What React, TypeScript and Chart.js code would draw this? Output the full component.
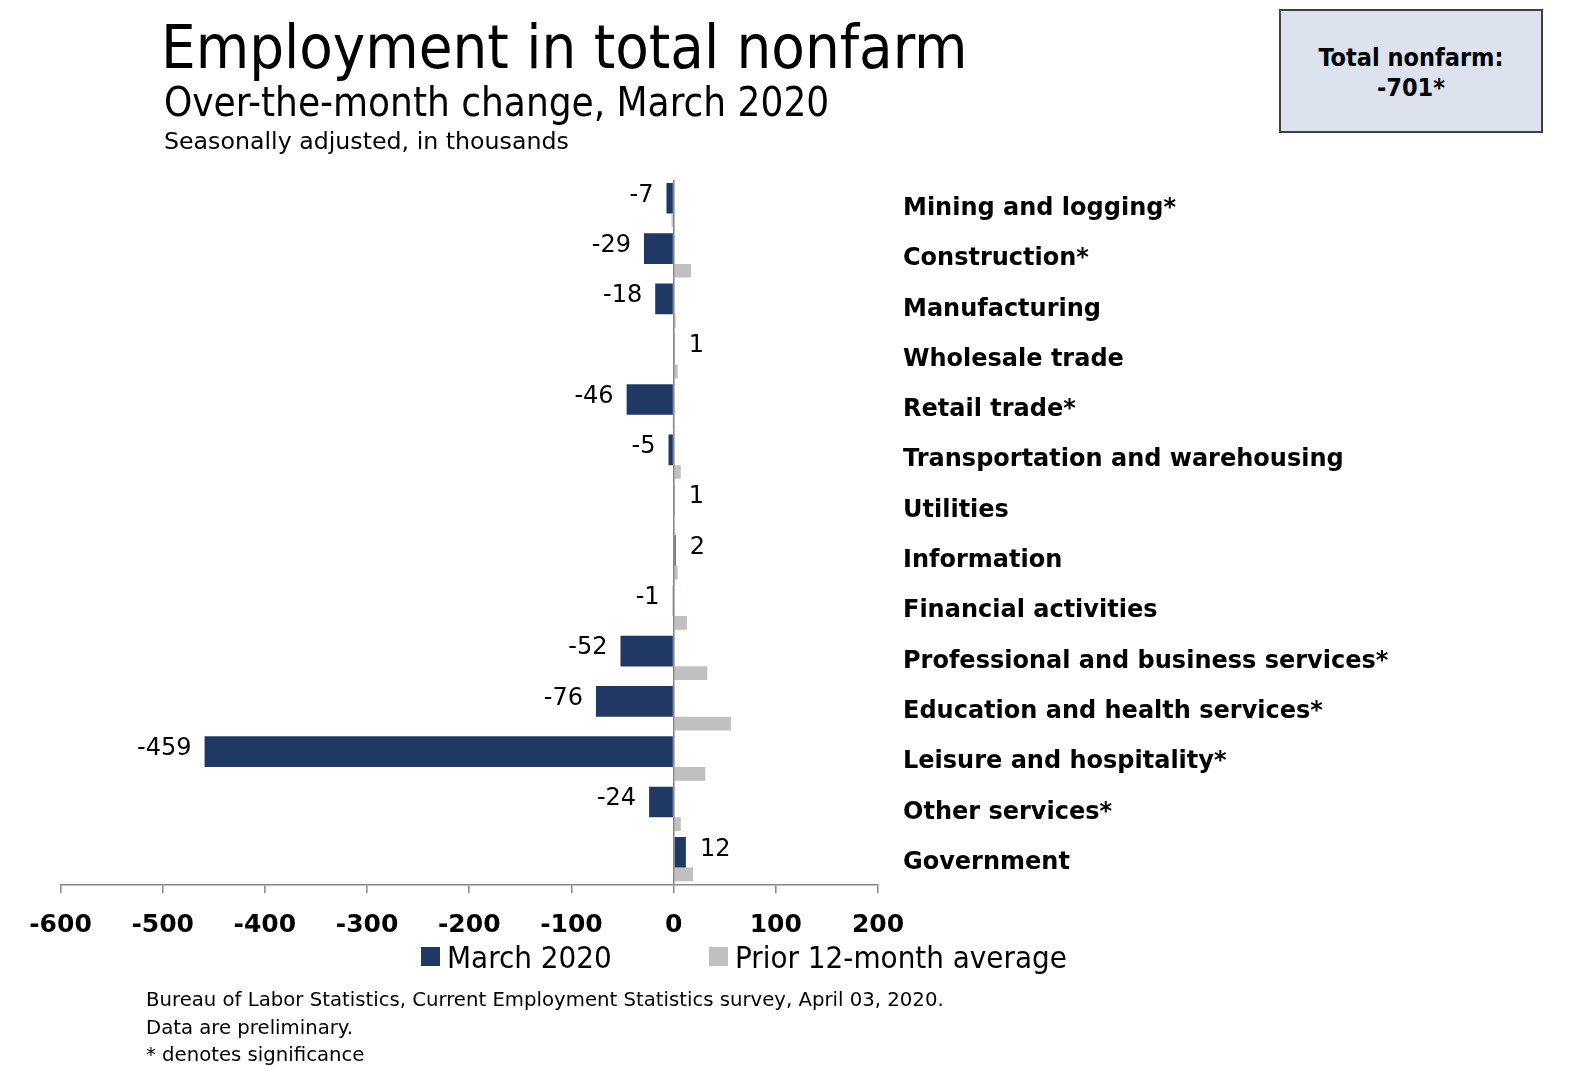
import React, { useEffect, useRef } from "react";
import { Chart, registerables } from "chart.js";

Chart.register(...registerables);

// ---------- data ----------
const categories = [
  "Mining and logging*",
  "Construction*",
  "Manufacturing",
  "Wholesale trade",
  "Retail trade*",
  "Transportation and warehousing",
  "Utilities",
  "Information",
  "Financial activities",
  "Professional and business services*",
  "Education and health services*",
  "Leisure and hospitality*",
  "Other services*",
  "Government",
];
const march2020 = [-7, -29, -18, 1, -46, -5, 1, 2, -1, -52, -76, -459, -24, 12];
const prior12MonthAvg = [-2, 17, 2, 4, -1, 7, 0, 4, 13, 33, 56, 31, 7, 19];
const seriesNames = ["March 2020", "Prior 12-month average"];
const xTickMin = -600;
const xTickMax = 200;
const xTickStep = 100;

// ---------- style ----------
const FONT_C = "'DejaVu Sans Condensed', 'DejaVu Sans', sans-serif";
const FONT_R = "'DejaVu Sans', sans-serif";
const NAVY = "#1f3864";
const GRAY = "#c0c0c0";
const AXIS = "#888888";

const W = 1570;
const H = 1071;
const plotLeft = 60.5;
const plotRight = 878;
const plotTop = 180;
const plotBottom = 884.3;
const yAxisWidth = 520;
const xAxisHeight = 60;

const labelPlugin = {
  id: "barValueLabels",
  afterDatasetsDraw(chart: any) {
    const meta = chart.getDatasetMeta(0);
    const ctx = chart.ctx;
    ctx.save();
    ctx.font = `24px ${FONT_R}`;
    ctx.fillStyle = "#000";
    ctx.textBaseline = "middle";
    meta.data.forEach((bar: any, i: number) => {
      const v = march2020[i];
      const { x, y } = bar.getProps(["x", "y"], true);
      if (v < 0) {
        ctx.textAlign = "right";
        ctx.fillText(String(v), x - 13, y - 3);
      } else {
        ctx.textAlign = "left";
        ctx.fillText(String(v), x + 14, y - 3);
      }
    });
    ctx.restore();
  },
};

function ChartCanvas() {
  const ref = useRef<HTMLCanvasElement | null>(null);
  useEffect(() => {
    if (!ref.current) return;
    const chart = new Chart(ref.current, {
      type: "bar",
      data: {
        labels: categories,
        datasets: [
          {
            label: seriesNames[0],
            data: march2020,
            backgroundColor: NAVY,
            borderWidth: 0,
            categoryPercentage: 0.545,
            barPercentage: 2.234,
          },
          {
            label: seriesNames[1],
            data: prior12MonthAvg,
            backgroundColor: GRAY,
            borderWidth: 0,
            categoryPercentage: 1.217,
            barPercentage: 0.448,
          },
        ],
      },
      options: {
        animation: false,
        responsive: false,
        indexAxis: "y",
        layout: {
          padding: {
            left: plotLeft,
            top: plotTop,
            right: W - plotRight - yAxisWidth,
            bottom: H - plotBottom - xAxisHeight,
          },
        },
        plugins: {
          legend: { display: false },
          tooltip: { enabled: false },
        },
        scales: {
          x: {
            type: "linear",
            position: "bottom",
            min: xTickMin,
            max: xTickMax,
            afterFit: (s: any) => {
              s.height = xAxisHeight;
            },
            ticks: {
              stepSize: xTickStep,
              autoSkip: false,
              maxRotation: 0,
              color: "#000",
              padding: 17,
              font: { family: FONT_R, size: 25, weight: "bold" },
            },
            grid: {
              z: 1,
              color: (c: any) => (c.tick && c.tick.value === 0 ? AXIS : "rgba(0,0,0,0)"),
              lineWidth: 1.6,
              tickColor: AXIS,
              tickLength: 9,
              tickWidth: 1.5,
            },
            border: { display: true, color: AXIS, width: 1.6, z: 1 },
          },
          y: {
            type: "category",
            position: "right",
            afterFit: (s: any) => {
              s.width = yAxisWidth;
            },
            grid: { display: false, drawTicks: false, tickLength: 0 },
            border: { display: false },
            ticks: {
              autoSkip: false,
              color: "#000",
              padding: 25,
              labelOffset: 3.5,
              font: { family: FONT_R, size: 24, weight: "bold" },
            },
          },
        },
      } as any,
      plugins: [labelPlugin],
    });
    return () => chart.destroy();
  }, []);
  return (
    <canvas
      ref={ref}
      width={W}
      height={H}
      style={{ position: "absolute", left: 0, top: 0, width: W, height: H }}
    />
  );
}

const abs = (
  left: number,
  top: number,
  size: number,
  family: string,
  extra: React.CSSProperties = {}
): React.CSSProperties => ({
  position: "absolute",
  left,
  top,
  fontSize: size,
  lineHeight: `${size}px`,
  whiteSpace: "nowrap",
  fontFamily: family,
  color: "#000",
  ...extra,
});

export default function App() {
  return (
    <div
      style={{
        position: "fixed",
        left: 0,
        top: 0,
        width: W,
        height: H,
        background: "#fff",
        overflow: "hidden",
        fontFamily: FONT_R,
      }}
    >
      <ChartCanvas />
      <div style={abs(161, 15.7, 61, FONT_C)}>Employment in total nonfarm</div>
      <div style={abs(164, 81.8, 40, FONT_C)}>Over-the-month change, March 2020</div>
      <div style={abs(164, 129.6, 23.7, FONT_R)}>Seasonally adjusted, in thousands</div>

      <div
        style={{
          position: "absolute",
          left: 1279,
          top: 9,
          width: 264,
          height: 124,
          boxSizing: "border-box",
          border: "2px solid #404040",
          background: "#dce3ef",
        }}
      />
      <div style={abs(1279, 45, 25, FONT_C, { width: 264, textAlign: "center", fontWeight: "bold" })}>
        Total nonfarm:
      </div>
      <div style={abs(1279, 75, 25, FONT_C, { width: 264, textAlign: "center", fontWeight: "bold" })}>-701*</div>

      <div style={{ position: "absolute", left: 421, top: 947, width: 19, height: 19, background: NAVY }} />
      <div style={abs(447, 942.1, 31, FONT_C)}>{seriesNames[0]}</div>
      <div style={{ position: "absolute", left: 709, top: 947, width: 19, height: 19, background: GRAY }} />
      <div style={abs(735, 942.1, 31, FONT_C)}>{seriesNames[1]}</div>

      <div style={abs(146, 989.5, 19.7, FONT_R)}>
        Bureau of Labor Statistics, Current Employment Statistics survey, April 03, 2020.
      </div>
      <div style={abs(146, 1017.5, 19.7, FONT_R)}>Data are preliminary.</div>
      <div style={abs(146, 1044.5, 19.7, FONT_R)}>* denotes significance</div>
    </div>
  );
}
